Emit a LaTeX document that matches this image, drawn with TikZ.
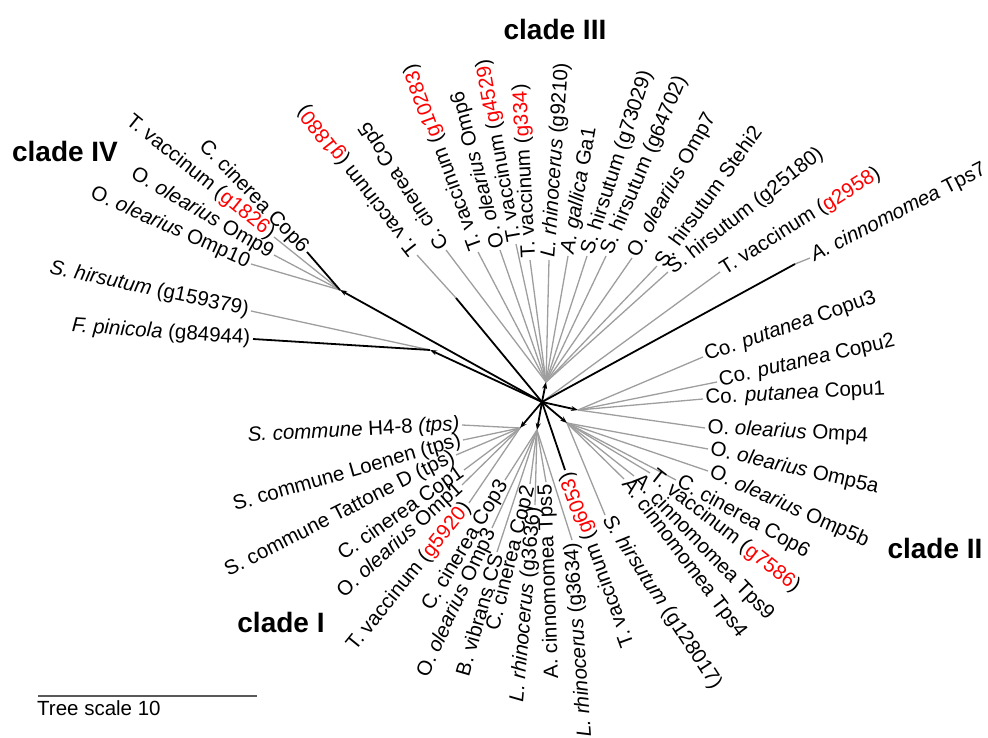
\documentclass[tikz,border=0pt]{standalone}
\usepackage{fontspec}
\setmainfont{Liberation Sans}
\usetikzlibrary{arrows.meta}
\newcommand{\tipfont}{\fontsize{20.5}{22}\selectfont}
\newcommand{\gid}[1]{\textcolor{red}{#1}}

\begin{document}
\begin{tikzpicture}[x=1pt,y=-1pt,>={Stealth[length=7pt,width=5pt]},
    leaf/.style={black!38,line width=1.3pt},
    stem/.style={black,line width=1.8pt},
    tipl/.style={anchor=east,inner sep=2pt,text=black,font=\tipfont},
    tipr/.style={anchor=west,inner sep=2pt,text=black,font=\tipfont},
    clade/.style={font=\fontsize{28}{30}\selectfont\bfseries}]
    \useasboundingbox (0,0) rectangle (988,738);

    % inner nodes
    \coordinate (R) at (542,402);
    \coordinate (B4) at (340,290);
    \coordinate (A4) at (430,350);
    \coordinate (C3) at (546,382);
    \coordinate (K1) at (456,298);
    \coordinate (T7) at (795,264);
    \coordinate (Q1) at (578,410);
    \coordinate (Q2) at (567,423);
    \coordinate (P1) at (520,428);
    \coordinate (P2) at (537,430);

    % clade IV
    \draw[leaf] (B4) -- (274,237) coordinate (t2) node[tipl,rotate=-39] (n2) {T. vaccinum (\gid{g1826})};
    \draw[leaf] (B4) -- (274,255) coordinate (t3) node[tipl,rotate=-30] (n3) {O. \textit{olearius} Omp9};
    \draw[leaf] (B4) -- (251,264) coordinate (t4) node[tipl,rotate=-24] (n4) {O. \textit{olearius} Omp10};
    \draw[leaf] (A4) -- (251,311) coordinate (t5) node[tipl,rotate=-12] (n5) {\textit{S. hirsutum} (g159379)};
    \draw[stem] (B4) -- (307,252) coordinate (t1) node[tipl,rotate=-46] (n1) {C. cinerea Cop6};
    \draw[stem] (A4) -- (253,339) coordinate (t6) node[tipl,rotate=-4] (n6) {\textit{F. pinicola} (g84944)};

    % clade III
    \draw[leaf] (K1) -- (417,255) coordinate (t7) node[tipr,rotate=128] (n7) {T. vaccinum (\gid{g1880})};
    \draw[leaf] (C3) -- (446,250) coordinate (t8) node[tipr,rotate=123] (n8) {C. cinerea Cop5};
    \draw[leaf] (C3) -- (478,252) coordinate (t9) node[tipr,rotate=110] (n9) {T. vaccinum (\gid{g10283})};
    \draw[leaf] (C3) -- (500,250) coordinate (t10) node[tipr,rotate=105] (n10) {O. \textit{olearius} Omp6};
    \draw[leaf] (C3) -- (516,244) coordinate (t11) node[tipr,rotate=100] (n11) {T. vaccinum (\gid{g4529})};
    \draw[leaf] (C3) -- (530,260) coordinate (t12) node[tipr,rotate=93] (n12) {T. vaccinum (\gid{g334})};
    \draw[leaf] (C3) -- (549,260) coordinate (t13) node[tipr,rotate=86] (n13) {\textit{L. rhinocerus} (g9210)};
    \draw[leaf] (C3) -- (568,256) coordinate (t14) node[tipr,rotate=80] (n14) {\textit{A. gallica} Ga1};
    \draw[leaf] (C3) -- (587,256) coordinate (t15) node[tipr,rotate=72] (n15) {S. hirsutum (g73029)};
    \draw[leaf] (C3) -- (606,256) coordinate (t16) node[tipr,rotate=67] (n16) {S. hirsutum (g64702)};
    \draw[leaf] (C3) -- (632,258) coordinate (t17) node[tipr,rotate=61] (n17) {O. \textit{olearius} Omp7};
    \draw[leaf] (C3) -- (657,266) coordinate (t18) node[tipr,rotate=54] (n18) {S. hirsutum Stehi2};
    \draw[leaf] (C3) -- (668,272) coordinate (t19) node[tipr,rotate=38] (n19) {S. hirsutum (g25180)};
    \draw[leaf] (R) -- (720,272) coordinate (t20) node[tipr,rotate=32] (n20) {T. vaccinum (\gid{g2958})};
    \draw[leaf] (T7) -- (810,258) coordinate (t21) node[tipr,rotate=27] (n21) {\textit{A. cinnomomea} Tps7};

    % clade II
    \draw[leaf] (Q1) -- (703,357) coordinate (t22) node[tipr,rotate=19] (n22) {Co. \textit{putanea} Copu3};
    \draw[leaf] (Q1) -- (717,382) coordinate (t23) node[tipr,rotate=13] (n23) {Co. \textit{putanea} Copu2};
    \draw[leaf] (Q1) -- (703,399) coordinate (t24) node[tipr,rotate=3] (n24) {Co. \textit{putanea} Copu1};
    \draw[leaf] (Q1) -- (705,428) coordinate (t25) node[tipr,rotate=-3] (n25) {O. \textit{olearius} Omp4};
    \draw[leaf] (Q2) -- (708,449) coordinate (t26) node[tipr,rotate=-13] (n26) {O. \textit{olearius} Omp5a};
    \draw[leaf] (Q2) -- (708,471) coordinate (t27) node[tipr,rotate=-24] (n27) {O. \textit{olearius} Omp5b};
    \draw[leaf] (Q2) -- (676,480) coordinate (t28) node[tipr,rotate=-29] (n28) {C. cinerea Cop6};
    \draw[leaf] (Q2) -- (650,473) coordinate (t29) node[tipr,rotate=-38] (n29) {T. vaccinum (\gid{g7586})};
    \draw[leaf] (Q2) -- (634,476) coordinate (t30) node[tipr,rotate=-46] (n30) {A. cinnomomea Tps9};
    \draw[leaf] (Q2) -- (624,479) coordinate (t31) node[tipr,rotate=-53] (n31) {A. cinnomomea Tps4};
    \draw[leaf] (Q2) -- (605,515) coordinate (t32) node[tipr,rotate=-57] (n32) {\textit{S. hirsutum} (g128017)};

    % clade I
    \draw[leaf] (P2) -- (572,540) coordinate (t34) node[tipl,rotate=94] (n34) {\textit{L. rhinocerus} (g3634)};
    \draw[leaf] (P2) -- (546,482) coordinate (t35) node[tipl,rotate=92] (n35) {A. cinnomomea Tps5};
    \draw[leaf] (P2) -- (535,505) coordinate (t36) node[tipl,rotate=85] (n36) {\textit{L. rhinocerus} (g3636)};
    \draw[leaf] (P2) -- (530,484) coordinate (t37) node[tipl,rotate=76] (n37) {C. cinerea Cop2};
    \draw[leaf] (P2) -- (497,552) coordinate (t38) node[tipl,rotate=74] (n38) {B. vibrans CS};
    \draw[leaf] (P2) -- (492,528) coordinate (t39) node[tipl,rotate=65] (n39) {O. \textit{olearius} Omp3};
    \draw[leaf] (P2) -- (505,480) coordinate (t40) node[tipl,rotate=59] (n40) {C. cinerea Cop3};
    \draw[leaf] (P1) -- (469,503) coordinate (t41) node[tipl,rotate=51] (n41) {T. vaccinum (\gid{g5920})};
    \draw[leaf] (P1) -- (462,485) coordinate (t42) node[tipl,rotate=42] (n42) {O. \textit{olearius} Omp1};
    \draw[leaf] (P1) -- (464,470) coordinate (t43) node[tipl,rotate=35] (n43) {C. cinerea Cop1};
    \draw[leaf] (P1) -- (456,455) coordinate (t44) node[tipl,rotate=27] (n44) {S. commune Tattone D (tps)};
    \draw[leaf] (P1) -- (463,440) coordinate (t45) node[tipl,rotate=16] (n45) {S. commune Loenen (tps)};
    \draw[leaf] (P1) -- (462,425) coordinate (t46) node[tipl,rotate=3] (n46) {\textit{S. commune} H4-8 \textit{(tps)}};
    \draw[stem] (R) -- (565,470) coordinate (t33) node[tipl,rotate=110] (n33) {T. vaccinum (\gid{g6053})};

    % inner branches
    \draw[stem,->] (R) -- (B4);
    \draw[stem,->] (R) -- (A4);
    \draw[stem] (R) -- (K1);
    \draw[stem,->] (R) -- (C3);
    \draw[stem] (R) -- (T7);
    \draw[stem,->] (R) -- (Q1);
    \draw[stem,->] (R) -- (Q2);
    \draw[stem,->] (R) -- (P1);
    \draw[stem,->] (R) -- (P2);

    \node[clade] (cIV) at (65,151) {clade IV};
    \node[clade] (cIII) at (555,29) {clade III};
    \node[clade] (cII) at (935,548) {clade II};
    \node[clade] (cI) at (281,622) {clade I};

    % scale
    \coordinate (s0) at (38,696);
    \coordinate (s1) at (257,696);
    \draw[black!65,line width=1.8pt] (s0) -- (s1);
    \node[anchor=north west,inner sep=0pt,font=\tipfont] (sc) at (37,700) {Tree scale 10};
\end{tikzpicture}
\end{document}
